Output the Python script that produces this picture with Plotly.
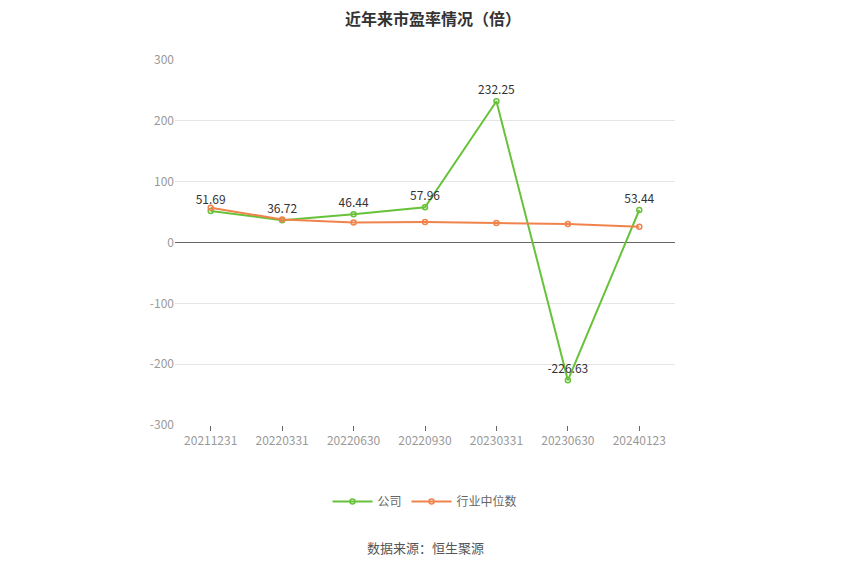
import plotly.graph_objects as go

dates = ["20211231","20220331","20220630","20220930","20230331","20230630","20240123"]
company = [51.69, 36.72, 46.44, 57.96, 232.25, -226.63, 53.44]
industry = [57.0, 38.0, 33.0, 33.5, 32.0, 30.5, 26.0]
labels = ["51.69","36.72","46.44","57.96","232.25","-226.63","53.44"]
yticks = [-300, -200, -100, 0, 100, 200, 300]
yticktext = ["-300", "-200", "-100", "0", "100", "200", "300"]

fig = go.Figure()
fig.add_trace(go.Scatter(x=dates, y=company, name="公司", mode="lines+markers+text",
    line=dict(color="#67c23a", width=2),
    marker=dict(symbol="circle-open", size=5, color="#67c23a", line=dict(width=1.5)),
    text=labels, textposition="top center", textfont=dict(size=12, color="#333")))
fig.add_trace(go.Scatter(x=dates, y=industry, name="行业中位数", mode="lines+markers",
    line=dict(color="#f0834c", width=2),
    marker=dict(symbol="circle-open", size=5, color="#f0834c", line=dict(width=1.5))))

fig.update_layout(
    width=850, height=574, plot_bgcolor="white", paper_bgcolor="white",
    font=dict(family="Noto Sans CJK SC", size=12, color="#999"),
    title=dict(text="<b>近年来市盈率情况（倍）</b>", x=0.5, y=0.99, yanchor="top", xanchor="center",
               font=dict(size=16, color="#333")),
    margin=dict(l=167, r=183, t=52, b=157),
    xaxis=dict(type="category", range=[-0.5, 6.5], showgrid=False, ticks="outside",
               ticklen=5, tickcolor="#666", tickfont=dict(color="#999")),
    yaxis=dict(range=[-300, 300], tickvals=yticks, ticktext=yticktext, gridcolor="#e5e5e5",
               zeroline=True, zerolinecolor="#666", zerolinewidth=1, tickfont=dict(color="#999")),
    legend=dict(orientation="h", x=0.5, xanchor="center", y=-0.17, yanchor="top",
                font=dict(color="#666", size=12), itemwidth=40),
    annotations=[dict(text="数据来源：恒生聚源", x=0.5, xref="paper", y=-0.305, yref="paper",
                      yanchor="top", showarrow=False, font=dict(size=13, color="#555"))]
)
fig.write_html("out.html")
